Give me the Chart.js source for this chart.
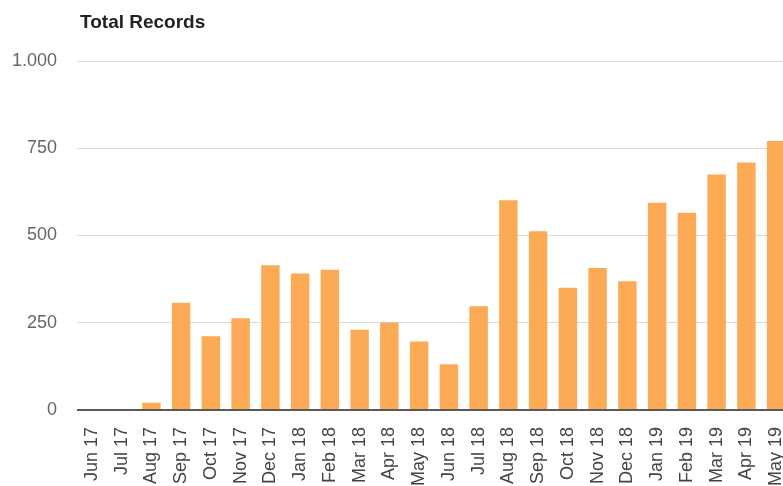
<!DOCTYPE html>
<html>
<head>
<meta charset="utf-8">
<script src="https://cdn.jsdelivr.net/npm/chart.js@4.4.1/dist/chart.umd.min.js"></script>
<style>
html,body{margin:0;padding:0;background:#fff;overflow:hidden;}
#wrap{position:relative;width:783px;height:486px;overflow:hidden;}
#title{position:absolute;left:80px;top:12px;font:bold 19px/19px "Liberation Sans",Arial,sans-serif;color:#222;}
canvas{position:absolute;left:0;top:0;}
</style>
</head>
<body>
<div id="wrap">
<canvas id="recordsChart" width="800" height="560"></canvas>
<div id="title">Total Records</div>
</div>
<script>

const months=[
"Jun 17","Jul 17","Aug 17","Sep 17","Oct 17","Nov 17","Dec 17",
"Jan 18","Feb 18","Mar 18","Apr 18","May 18","Jun 18","Jul 18",
"Aug 18","Sep 18","Oct 18","Nov 18","Dec 18",
"Jan 19","Feb 19","Mar 19","Apr 19","May 19"
];

const records=[
0,0,21,307,211,263,415,
391,402,230,251,196,131,297,
601,512,350,407,369,
594,565,675,709,771
];

const yTicks=[0,250,500,750,1000];

// 1000 -> "1.000"
function fmt(v){
return String(v).replace(/\B(?=(\d{3})+(?!\d))/g,".");
}

const font={family:"'Liberation Sans', Arial, sans-serif",size:18};

const ctx=document
.getElementById("recordsChart")
.getContext("2d");

new Chart(ctx,{

type:"bar",

data:{

labels:months,

datasets:[{

label:"Total Records",

data:records,

backgroundColor:"#fcaa55",

barPercentage:.62,

categoryPercentage:1

}]

},

options:{

responsive:false,

animation:false,

layout:{
padding:{top:61,right:9,bottom:0,left:0}
},

plugins:{
legend:{display:false},
tooltip:{enabled:false}
},

scales:{

x:{
grid:{display:false,drawTicks:false},
border:{display:false},
ticks:{
font,
color:"#444",
maxRotation:90,
minRotation:90,
autoSkip:false,
padding:17
},
afterFit(s){
s.height=150;
s.paddingLeft=0;
s.paddingRight=0;
}
},

y:{
min:0,
max:1000,
afterBuildTicks(s){ s.ticks=yTicks.map(v=>({value:v})); },
border:{display:false},
grid:{
drawTicks:false,
color:c=>c.tick&&c.tick.value===0?"#5a5a5a":"#dadada",
lineWidth:c=>c.tick&&c.tick.value===0?2:1
},
ticks:{
font,
color:"#666",
padding:20,
callback:v=>fmt(v)
},
afterFit(s){ s.width=77; }
}

}

}

});

</script>
</body>
</html>
